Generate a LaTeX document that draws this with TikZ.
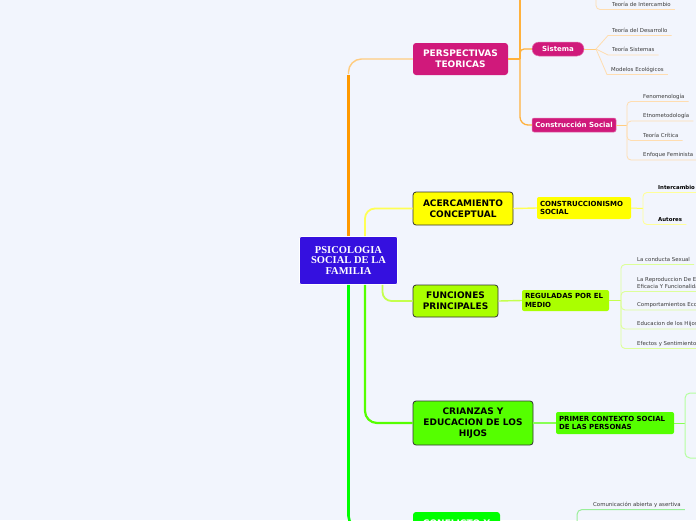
\documentclass[tikz,border=0pt]{standalone}
\usepackage{fontspec}
\setmainfont{DejaVu Sans}
\newfontfamily\rootserif{Liberation Serif}
\definecolor{bgc}{HTML}{F2F5FD}
\definecolor{rootc}{HTML}{3510DF}
\definecolor{pmag}{HTML}{D0197B}
\definecolor{orngA}{HTML}{FF9900}
\definecolor{orngB}{HTML}{FFB13D}
\definecolor{orngC}{HTML}{FFCC80}
\definecolor{orngD}{HTML}{FFDDB0}
\definecolor{ylwA}{HTML}{FFFF00}
\definecolor{ylwB}{HTML}{FFFF55}
\definecolor{ylwC}{HTML}{FFFF99}
\definecolor{ygA}{HTML}{AAFF00}
\definecolor{ygB}{HTML}{C4FF4D}
\definecolor{ygC}{HTML}{DDFF99}
\definecolor{lgA}{HTML}{55FF00}
\definecolor{lgB}{HTML}{88FF55}
\definecolor{lgC}{HTML}{B5FFA0}
\definecolor{bgA}{HTML}{00FF00}
\definecolor{bgC}{HTML}{99EE99}
\definecolor{leaftxt}{HTML}{3A3A3A}
\definecolor{edgec}{HTML}{333333}
\begin{document}
\begin{tikzpicture}[x=1pt,y=-1pt,
  rootbox/.style={fill=rootc, draw=white, line width=0.8pt, rounded corners=2pt, minimum width=98pt, minimum height=48pt, inner sep=0pt, align=center, text=white, font=\rootserif\bfseries\fontsize{10.5}{10.8}\selectfont},
  mainbox/.style={rounded corners=3pt, inner sep=0pt, align=center, font=\bfseries\fontsize{9}{11}\selectfont},
  subbox/.style={rounded corners=2pt, inner xsep=3pt, inner ysep=0pt, align=left, font=\bfseries\fontsize{7}{8.5}\selectfont},
  pinkbox/.style={fill=pmag, draw=pmag!60!white, line width=0.5pt, inner sep=0pt, text=white, font=\bfseries\fontsize{7}{8}\selectfont},
  leaf/.style={anchor=south west, inner xsep=4pt, inner ysep=2pt, text depth=1.2pt, text=leaftxt, font=\fontsize{5.4}{6.5}\selectfont},
  boldleaf/.style={leaf, text=black, font=\bfseries\fontsize{5.4}{6.5}\selectfont},
  oline/.style={draw=orngB, line width=1.3pt},
  oleaf/.style={draw=orngD, line width=0.8pt, rounded corners=4pt},
  yleaf/.style={draw=ylwC, line width=0.9pt, rounded corners=4pt},
  gleaf/.style={draw=ygC, line width=0.9pt, rounded corners=4pt},
  lleaf/.style={draw=lgC, line width=1pt, rounded corners=5pt},
  bleaf/.style={draw=bgC, line width=1pt, rounded corners=5pt}
]
\useasboundingbox (0,0) rectangle (696,520);
\clip (0,0) rectangle (696,520);
\fill[bgc] (0,0) rectangle (696,520);

% ---------- nodes ----------
\node[rootbox] (root) at (348.5,260.5) {PSICOLOGIA\\SOCIAL DE LA\\FAMILIA};

\node[mainbox, fill=pmag, text=white, minimum width=95pt, minimum height=32pt] (persp) at (460.5,59) {PERSPECTIVAS\\TEORICAS};
\node[pinkbox, rounded corners=7pt, minimum width=52pt, minimum height=14pt] (sistema) at (558,49) {Sistema};
\node[pinkbox, rounded corners=2pt, minimum width=84pt, minimum height=14pt] (consoc) at (574,125) {Construcción Social};

\node[mainbox, fill=ylwA, draw=edgec, line width=0.8pt, minimum width=100pt, minimum height=33pt] (acerc) at (463,208.5) {ACERCAMIENTO\\CONCEPTUAL};
\node[subbox, fill=ylwA, text width=88pt, minimum height=22pt] (constr) at (584,208) {CONSTRUCCIONISMO\\SOCIAL};

\node[mainbox, fill=ygA, draw=edgec, line width=0.8pt, minimum width=85pt, minimum height=32pt] (funciones) at (455.5,301) {FUNCIONES\\PRINCIPALES};
\node[subbox, fill=ygA, text width=81pt, minimum height=21pt] (reguladas) at (565.5,300.5) {REGULADAS POR EL\\MEDIO};

\node[mainbox, fill=lgA, draw=edgec, line width=0.8pt, minimum width=120pt, minimum height=44pt] (crianzas) at (473,423) {CRIANZAS Y\\EDUCACION DE LOS\\HIJOS};
\node[subbox, fill=lgA, text width=112pt, minimum height=22pt] (primer) at (615,423) {PRIMER CONTEXTO SOCIAL\\DE LAS PERSONAS};

\node[mainbox, fill=bgA, text=white, minimum width=87pt, minimum height=32pt] (conflicto) at (456.5,528) {CONFLICTO Y\\[-1.5pt]\phantom{X}};

% ---------- trunks from root ----------
\coordinate (otrunk) at (348.5,75);
\draw[orngA, line width=2.6pt] (root.north) -- (otrunk);
\draw[orngC, line width=1.4pt, rounded corners=13pt] ([yshift=1pt]otrunk) |- (persp.west);
\draw[ylwB, line width=1.8pt, rounded corners=10pt] ([xshift=16.5pt]root.north) |- (acerc.west);
\draw[ygB, line width=1.8pt, rounded corners=9pt] ([xshift=34pt]root.south) |- (funciones.west);
\draw[lgA, line width=2.2pt, rounded corners=12pt] ([xshift=16.5pt]root.south) |- (crianzas.west);
\draw[bgA, line width=2.6pt, rounded corners=12pt] (root.south) |- (conflicto.west);

% ---------- PERSPECTIVAS TEORICAS ----------
\coordinate (pj) at (520,59);
\coordinate (ptop) at (520,-10);
\draw[oline] (persp.east) -- (pj);
\draw[oline] (pj) -- (ptop);
\draw[oline, rounded corners=4pt] (pj) |- (sistema.west);
\draw[oline, rounded corners=8pt] (pj) |- (consoc.west);

\coordinate (ij) at (596,-10);
\node[leaf] (tint) at (608,9.5) {Teoría de Intercambio};
\draw[oleaf] (ij) |- (tint.south west) -- (tint.south east);

\coordinate (sj) at (596,49);
\draw[draw=orngC, line width=1pt] (sistema.east) -- (sj);
\node[leaf] (tdes) at (608,35.5) {Teoría del Desarrollo};
\node[leaf] (tsis) at (608,55) {Teoría Sistemas};
\node[leaf] (meco) at (607,74.5) {Modelos Ecológicos};
\draw[oleaf, rounded corners=0pt] (sj) -- (tdes.south west) -- (tdes.south east);
\draw[oleaf, rounded corners=0pt] (sj) -- (tsis.south west) -- (tsis.south east);
\draw[oleaf, rounded corners=0pt] (sj) -- (meco.south west) -- (meco.south east);

\coordinate (cj) at (627,125);
\draw[draw=orngC, line width=1pt] (consoc.east) -- (cj);
\node[leaf] (fen) at (639,101.5) {Fenomenología};
\node[leaf] (etn) at (639,121) {Etnometodología};
\node[leaf] (tcr) at (639,140.5) {Teoría Crítica};
\node[leaf] (efe) at (639,160) {Enfoque Feminista};
\draw[oleaf] (cj) |- (fen.south west) -- (fen.south east);
\draw[oleaf] (cj) |- (etn.south west) -- (etn.south east);
\draw[oleaf] (cj) |- (tcr.south west) -- (tcr.south east);
\draw[oleaf] (cj) |- (efe.south west) -- (efe.south east);

% ---------- ACERCAMIENTO CONCEPTUAL ----------
\coordinate (kj) at (643,208.5);
\draw[ylwB, line width=1.4pt] (acerc.east) -- (constr.west);
\draw[ylwB, line width=1pt] (constr.east) -- (kj);
\node[boldleaf] (inter) at (654,192.5) {Intercambio};
\node[boldleaf] (autor) at (654,224.5) {Autores};
\draw[yleaf] (kj) |- (inter.south west) -- (inter.south east);
\draw[yleaf] (kj) |- (autor.south west) -- (autor.south east);

% ---------- FUNCIONES PRINCIPALES ----------
\coordinate (rj) at (621,300.5);
\draw[ygB, line width=1.4pt] (funciones.east) -- (reguladas.west);
\draw[ygB, line width=1pt] (reguladas.east) -- (rj);
\node[leaf] (sex) at (633,264.5) {La conducta Sexual};
\node[leaf, text depth={}, align=left] (rep) at (633,291.5) {La Reproduccion De Especie\\Eficacia Y Funcionalidad\vphantom{g}};
\node[leaf] (eco) at (633,310) {Comportamientos Economicos};
\node[leaf] (edu) at (633,329) {Educacion de los Hijos};
\node[leaf] (efs) at (633,348.5) {Efectos y Sentimientos};
\draw[gleaf] (rj) |- (sex.south west) -- (sex.south east);
\draw[gleaf] (rj) |- (rep.south west) -- (rep.south east);
\draw[gleaf] (rj) |- (eco.south west) -- (eco.south east);
\draw[gleaf] (rj) |- (edu.south west) -- (edu.south east);
\draw[gleaf] (rj) |- (efs.south west) -- (efs.south east);

% ---------- CRIANZAS ----------
\coordinate (qj) at (685,423);
\coordinate (q1) at (720,393);
\coordinate (q2) at (720,458);
\draw[lgB, line width=1.4pt] (crianzas.east) -- (primer.west);
\draw[lgB, line width=1pt] (primer.east) -- (qj);
\draw[lleaf] (qj) |- (q1);
\draw[lleaf] (qj) |- (q2);

% ---------- CONFLICTO ----------
\coordinate (mj) at (577,540);
\node[leaf] (comu) at (589,509.5) {Comunicación abierta y asertiva};
\draw[bleaf] (mj) |- (comu.south west) -- (comu.south east);
\end{tikzpicture}
\end{document}
